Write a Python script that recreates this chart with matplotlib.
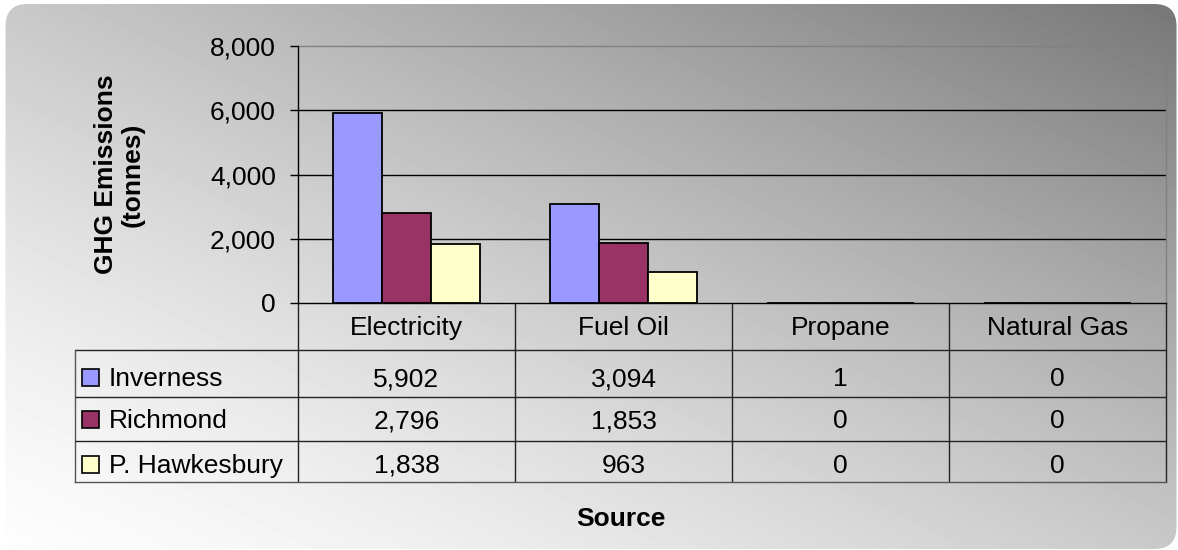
import numpy as np
import matplotlib
matplotlib.use("Agg")
import matplotlib.pyplot as plt
from matplotlib.patches import FancyBboxPatch, Rectangle
from matplotlib.ticker import FuncFormatter, FixedLocator

plt.rcParams['font.family'] = ['Liberation Sans', 'DejaVu Sans']

# ---- data -------------------------------------------------------------
sources = ["Electricity", "Fuel Oil", "Propane", "Natural Gas"]
regions = ["Inverness", "Richmond", "P. Hawkesbury"]
inverness = [5902, 3094, 1, 0]
richmond = [2796, 1853, 0, 0]
hawkesbury = [1838, 963, 0, 0]
y_ticks = [0, 2000, 4000, 6000, 8000]

series = [inverness, richmond, hawkesbury]
colors = ["#9999FF", "#993366", "#FFFFCC"]

# ---- figure & background ------------------------------------------------
W, H = 1178, 550
fig = plt.figure(figsize=(W / 100, H / 100), dpi=100)
fig.patch.set_facecolor("white")

bg = fig.add_axes([0, 0, 1, 1])
bg.set_xlim(0, W)
bg.set_ylim(H, 0)
bg.axis("off")
yy, xx = np.mgrid[0:H, 0:W]
s = 0.5 * xx / W + 0.5 * (H - yy) / H
shade = (253 - 135 * s ** 1.35) / 255.0
img = bg.imshow(shade, cmap="gray", vmin=0, vmax=1, extent=(0, W, H, 0),
                interpolation="bilinear", aspect="auto")
frame = FancyBboxPatch((5.5, 4), W - 7, H - 5,
                       boxstyle="round,pad=0,rounding_size=22",
                       facecolor="none", edgecolor="none")
bg.add_patch(frame)
img.set_clip_path(frame)

# ---- bar chart ------------------------------------------------------------
ax_left, ax_right, ax_top, ax_bottom = 298, 1166, 46, 303
ax = fig.add_axes([ax_left / W, 1 - ax_bottom / H,
                   (ax_right - ax_left) / W, (ax_bottom - ax_top) / H])
ax.set_facecolor("none")
ax.set_xlim(0, len(sources))
ax.set_ylim(y_ticks[0], y_ticks[-1])

bar_w = 0.2258
centers = np.arange(len(sources)) + 0.5
for k, (vals, col) in enumerate(zip(series, colors)):
    ax.bar(centers + (k - 1) * bar_w, vals, width=bar_w, color=col,
           edgecolor="black", linewidth=1.3, zorder=2)

for t in y_ticks[1:-1]:
    ax.axhline(t, color="black", linewidth=1.0, zorder=1)

ax.yaxis.set_major_locator(FixedLocator(y_ticks))
ax.yaxis.set_major_formatter(FuncFormatter(lambda v, p: f"{int(v):,}"))
ax.tick_params(axis="y", direction="out", length=6, width=1, pad=10,
               labelsize=19, colors="black")
ax.set_xticks([])
for side in ("top", "right"):
    ax.spines[side].set_color("#808080")
    ax.spines[side].set_linewidth(1.0)
for side in ("left", "bottom"):
    ax.spines[side].set_color("black")
    ax.spines[side].set_linewidth(1.0)
    ax.spines[side].set_zorder(3)

fig.text(119 / W, 1 - 174.5 / H, "GHG Emissions\n(tonnes)", rotation=90,
         ha="center", va="center", multialignment="center",
         fontsize=19, fontweight="bold", linespacing=1.12)

# ---- data table ---------------------------------------------------------
tax = fig.add_axes([0, 0, 1, 1], facecolor="none")
tax.set_xlim(0, W)
tax.set_ylim(H, 0)
tax.axis("off")

fig.canvas.draw()
col_px = [ax.transData.transform((i, 0))[0] for i in range(len(sources) + 1)]
table_left = 75
row_edges = [303, 350, 396.7, 440.7, 482]
baselines = [335, 386, 428.5, 473]
line_kw = dict(color="#222222", linewidth=1.0, solid_capstyle="butt")

# vertical rules
for x in col_px:
    tax.plot([x, x], [row_edges[0], row_edges[-1]], **line_kw)
tax.plot([table_left, table_left], [row_edges[1], row_edges[-1]],
         color="#555555", linewidth=1.0)
# horizontal rules
for y in row_edges[1:-1]:
    tax.plot([table_left, col_px[-1]], [y, y], **line_kw)
tax.plot([table_left, col_px[-1]], [row_edges[-1], row_edges[-1]],
         color="#555555", linewidth=1.0)

# header row
for i, name in enumerate(sources):
    tax.text((col_px[i] + col_px[i + 1]) / 2, baselines[0], name,
             ha="center", va="baseline", fontsize=19)

# series rows with legend keys
for r, (name, vals, col) in enumerate(zip(regions, series, colors)):
    base = baselines[r + 1]
    tax.add_patch(Rectangle((82, base - 17.5), 16.5, 17, facecolor=col,
                            edgecolor="black", linewidth=1.2))
    tax.text(109, base, name, ha="left", va="baseline", fontsize=19)
    for i, v in enumerate(vals):
        tax.text((col_px[i] + col_px[i + 1]) / 2, base, f"{v:,}",
                 ha="center", va="baseline", fontsize=19)

# x axis title
tax.text((table_left + col_px[-1]) / 2, 526, "Source", ha="center",
         va="baseline", fontsize=19, fontweight="bold")

fig.savefig("out.png", dpi=100)
